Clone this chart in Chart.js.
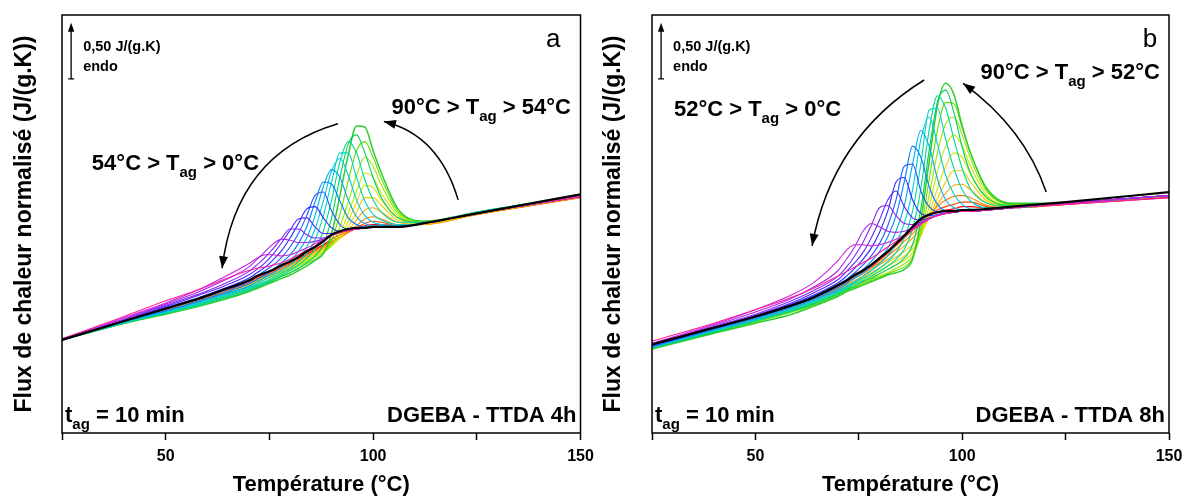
<!DOCTYPE html>
<html>
<head>
<meta charset="utf-8">
<script src="https://cdn.jsdelivr.net/npm/chart.js@4.4.1/dist/chart.umd.min.js"></script>
<style>
    html, body { margin: 0; padding: 0; background: #fff; overflow: hidden; }
    #wrap { position: relative; width: 1184px; height: 500px; }
    .panel { position: absolute; top: 0; height: 500px; }
</style>
</head>
<body>
<div id="wrap">
    <div class="panel" style="left:0;width:600px"><canvas id="chartA" width="600" height="500"></canvas></div>
    <div class="panel" style="left:592px;width:592px"><canvas id="chartB" width="592" height="500"></canvas></div>
</div>
<script>
// temperature grid shared by every curve (°C)
const temps = [25, 40, 50, 58, 64, 70, 72, 74, 76, 78, 80, 82, 84, 86, 88, 90, 92, 94, 96, 98, 100, 102, 106, 112, 125, 150];
const xTickLabels = [50, 100, 150];

// aging temperatures, hottest first
const agingTempsA = [90, 86, 82, 78, 74, 70, 66, 62, 58, 54, 50, 46, 42, 38, 34, 30, 26, 22, 18, 14, 10, 6, 2];
const agingTempsB = [90, 86, 82, 78, 74, 70, 66, 62, 57, 52, 48, 44, 40, 36, 32, 28, 24, 20, 16, 12, 8, 4, 0];

// --- DGEBA - TTDA 4h : normalised heat flow, J/(g.K) ---
const refA = [0.83, 1.00, 1.11, 1.20, 1.28, 1.36, 1.40, 1.43, 1.46, 1.50, 1.53, 1.57, 1.62, 1.66, 1.71, 1.77, 1.80, 1.82, 1.83, 1.83, 1.84, 1.84, 1.84, 1.87, 1.96, 2.13];
const a90 = [0.83, 1.00, 1.10, 1.19, 1.27, 1.35, 1.39, 1.42, 1.45, 1.49, 1.52, 1.56, 1.60, 1.64, 1.68, 1.73, 1.77, 1.80, 1.83, 1.85, 1.86, 1.86, 1.85, 1.87, 1.95, 2.11];
const a86 = [0.83, 0.99, 1.10, 1.19, 1.26, 1.34, 1.38, 1.41, 1.44, 1.48, 1.51, 1.55, 1.59, 1.63, 1.67, 1.71, 1.75, 1.79, 1.83, 1.87, 1.89, 1.88, 1.85, 1.86, 1.95, 2.10];
const a82 = [0.83, 0.99, 1.10, 1.18, 1.26, 1.33, 1.37, 1.40, 1.43, 1.47, 1.50, 1.54, 1.58, 1.62, 1.66, 1.70, 1.74, 1.79, 1.85, 1.91, 1.93, 1.91, 1.86, 1.86, 1.95, 2.10];
const a78 = [0.83, 0.99, 1.09, 1.18, 1.25, 1.33, 1.36, 1.39, 1.42, 1.46, 1.49, 1.53, 1.57, 1.61, 1.65, 1.69, 1.74, 1.81, 1.90, 1.99, 2.01, 1.97, 1.88, 1.86, 1.95, 2.11];
const a74 = [0.83, 0.99, 1.09, 1.17, 1.25, 1.32, 1.36, 1.39, 1.42, 1.45, 1.48, 1.52, 1.56, 1.60, 1.64, 1.68, 1.74, 1.84, 1.97, 2.10, 2.10, 2.03, 1.90, 1.87, 1.96, 2.11];
const a70 = [0.83, 0.99, 1.08, 1.17, 1.24, 1.31, 1.35, 1.38, 1.41, 1.44, 1.47, 1.51, 1.55, 1.59, 1.63, 1.67, 1.75, 1.89, 2.06, 2.21, 2.19, 2.08, 1.92, 1.87, 1.96, 2.11];
const a66 = [0.83, 0.98, 1.08, 1.16, 1.23, 1.30, 1.34, 1.37, 1.40, 1.43, 1.46, 1.50, 1.54, 1.58, 1.62, 1.67, 1.78, 1.96, 2.16, 2.32, 2.28, 2.14, 1.94, 1.88, 1.96, 2.11];
const a62 = [0.83, 0.98, 1.07, 1.15, 1.22, 1.29, 1.32, 1.35, 1.38, 1.42, 1.45, 1.49, 1.53, 1.57, 1.61, 1.68, 1.84, 2.06, 2.30, 2.46, 2.38, 2.21, 1.96, 1.88, 1.97, 2.12];
const a58 = [0.83, 0.98, 1.07, 1.15, 1.21, 1.28, 1.31, 1.34, 1.37, 1.40, 1.43, 1.47, 1.51, 1.55, 1.60, 1.72, 1.95, 2.25, 2.52, 2.60, 2.46, 2.27, 1.98, 1.89, 1.97, 2.12];
const a54 = [0.83, 0.98, 1.06, 1.13, 1.19, 1.26, 1.29, 1.32, 1.35, 1.38, 1.41, 1.45, 1.49, 1.54, 1.60, 1.78, 2.12, 2.48, 2.74, 2.73, 2.52, 2.32, 2.00, 1.89, 1.97, 2.12];
const a50 = [0.83, 0.98, 1.07, 1.14, 1.20, 1.27, 1.30, 1.33, 1.36, 1.40, 1.43, 1.47, 1.52, 1.58, 1.68, 1.92, 2.28, 2.58, 2.66, 2.50, 2.28, 2.10, 1.92, 1.88, 1.97, 2.12];
const a46 = [0.83, 0.98, 1.07, 1.14, 1.21, 1.28, 1.31, 1.34, 1.37, 1.41, 1.45, 1.50, 1.56, 1.64, 1.80, 2.08, 2.42, 2.60, 2.50, 2.26, 2.08, 1.97, 1.88, 1.88, 1.97, 2.12];
const a42 = [0.83, 0.99, 1.08, 1.15, 1.22, 1.29, 1.32, 1.35, 1.39, 1.43, 1.47, 1.53, 1.60, 1.72, 1.94, 2.24, 2.50, 2.50, 2.28, 2.07, 1.95, 1.90, 1.86, 1.87, 1.97, 2.12];
const a38 = [0.83, 0.99, 1.08, 1.16, 1.23, 1.30, 1.33, 1.37, 1.41, 1.45, 1.50, 1.57, 1.66, 1.82, 2.07, 2.34, 2.45, 2.30, 2.08, 1.94, 1.88, 1.86, 1.85, 1.87, 1.96, 2.12];
const a34 = [0.83, 0.99, 1.09, 1.17, 1.24, 1.31, 1.35, 1.39, 1.43, 1.48, 1.54, 1.62, 1.74, 1.94, 2.20, 2.35, 2.28, 2.08, 1.93, 1.87, 1.85, 1.85, 1.85, 1.87, 1.96, 2.11];
const a30 = [0.83, 1.00, 1.09, 1.18, 1.25, 1.33, 1.37, 1.41, 1.46, 1.52, 1.59, 1.69, 1.84, 2.06, 2.24, 2.22, 2.07, 1.92, 1.86, 1.84, 1.84, 1.84, 1.84, 1.87, 1.96, 2.11];
const a26 = [0.83, 1.00, 1.11, 1.20, 1.27, 1.35, 1.40, 1.45, 1.50, 1.57, 1.66, 1.78, 1.94, 2.12, 2.15, 1.98, 1.86, 1.82, 1.82, 1.83, 1.84, 1.84, 1.84, 1.87, 1.96, 2.11];
const a22 = [0.83, 1.00, 1.12, 1.21, 1.29, 1.38, 1.43, 1.48, 1.55, 1.63, 1.74, 1.87, 2.00, 2.02, 1.92, 1.83, 1.80, 1.81, 1.82, 1.83, 1.84, 1.84, 1.84, 1.87, 1.96, 2.11];
const a18 = [0.83, 1.01, 1.13, 1.23, 1.31, 1.41, 1.46, 1.52, 1.60, 1.70, 1.81, 1.91, 1.92, 1.84, 1.78, 1.78, 1.79, 1.81, 1.82, 1.83, 1.84, 1.84, 1.84, 1.87, 1.96, 2.11];
const a14 = [0.83, 1.01, 1.14, 1.24, 1.33, 1.44, 1.50, 1.57, 1.65, 1.74, 1.82, 1.82, 1.77, 1.74, 1.74, 1.77, 1.79, 1.81, 1.82, 1.83, 1.84, 1.84, 1.84, 1.87, 1.96, 2.11];
const a10 = [0.84, 1.02, 1.15, 1.26, 1.36, 1.48, 1.55, 1.62, 1.69, 1.73, 1.72, 1.70, 1.70, 1.71, 1.73, 1.77, 1.79, 1.81, 1.82, 1.83, 1.84, 1.84, 1.84, 1.87, 1.96, 2.11];
const a6 = [0.84, 1.03, 1.16, 1.28, 1.39, 1.51, 1.56, 1.59, 1.59, 1.58, 1.59, 1.62, 1.65, 1.69, 1.72, 1.76, 1.79, 1.81, 1.82, 1.83, 1.84, 1.84, 1.84, 1.87, 1.96, 2.11];
const a2 = [0.84, 1.04, 1.18, 1.28, 1.37, 1.45, 1.47, 1.48, 1.50, 1.52, 1.55, 1.59, 1.63, 1.67, 1.72, 1.76, 1.79, 1.81, 1.82, 1.83, 1.84, 1.84, 1.84, 1.87, 1.96, 2.11];
const seriesA = [a90, a86, a82, a78, a74, a70, a66, a62, a58, a54, a50, a46, a42, a38, a34, a30, a26, a22, a18, a14, a10, a6, a2];

// --- DGEBA - TTDA 8h ---
const refB = [0.79, 0.94, 1.04, 1.13, 1.21, 1.32, 1.36, 1.41, 1.45, 1.50, 1.56, 1.62, 1.69, 1.76, 1.84, 1.91, 1.95, 1.97, 1.98, 1.98, 1.99, 1.99, 2.00, 2.02, 2.06, 2.15];
const b90 = [0.79, 0.94, 1.03, 1.12, 1.20, 1.31, 1.35, 1.40, 1.44, 1.49, 1.55, 1.61, 1.68, 1.75, 1.83, 1.89, 1.94, 1.97, 1.99, 2.00, 2.02, 2.02, 2.01, 2.01, 2.04, 2.10];
const b86 = [0.78, 0.93, 1.03, 1.12, 1.20, 1.30, 1.34, 1.39, 1.43, 1.48, 1.54, 1.60, 1.67, 1.74, 1.81, 1.88, 1.94, 1.99, 2.02, 2.04, 2.06, 2.06, 2.02, 2.01, 2.04, 2.11];
const b82 = [0.78, 0.93, 1.02, 1.11, 1.19, 1.29, 1.33, 1.38, 1.42, 1.47, 1.52, 1.58, 1.64, 1.71, 1.78, 1.86, 1.94, 2.02, 2.08, 2.11, 2.12, 2.10, 2.03, 2.01, 2.05, 2.11];
const b78 = [0.77, 0.92, 1.02, 1.10, 1.18, 1.28, 1.32, 1.36, 1.40, 1.45, 1.50, 1.55, 1.61, 1.67, 1.74, 1.82, 1.92, 2.04, 2.14, 2.21, 2.22, 2.17, 2.05, 2.02, 2.05, 2.12];
const b74 = [0.77, 0.92, 1.01, 1.10, 1.18, 1.27, 1.31, 1.35, 1.39, 1.43, 1.47, 1.52, 1.57, 1.62, 1.68, 1.78, 1.92, 2.09, 2.24, 2.34, 2.34, 2.24, 2.07, 2.02, 2.05, 2.12];
const b70 = [0.77, 0.91, 1.01, 1.09, 1.17, 1.26, 1.30, 1.34, 1.37, 1.41, 1.45, 1.49, 1.53, 1.58, 1.64, 1.76, 1.95, 2.18, 2.38, 2.50, 2.46, 2.31, 2.09, 2.03, 2.05, 2.12];
const b66 = [0.76, 0.91, 1.00, 1.08, 1.16, 1.25, 1.29, 1.32, 1.35, 1.39, 1.42, 1.46, 1.50, 1.54, 1.61, 1.76, 2.02, 2.33, 2.56, 2.66, 2.56, 2.38, 2.12, 2.03, 2.05, 2.12];
const b62 = [0.76, 0.90, 1.00, 1.08, 1.15, 1.24, 1.28, 1.31, 1.34, 1.37, 1.40, 1.43, 1.47, 1.51, 1.58, 1.78, 2.12, 2.50, 2.76, 2.82, 2.66, 2.45, 2.15, 2.04, 2.05, 2.12];
const b57 = [0.76, 0.90, 0.99, 1.07, 1.14, 1.23, 1.27, 1.30, 1.33, 1.36, 1.39, 1.42, 1.45, 1.48, 1.56, 1.82, 2.26, 2.70, 2.95, 2.94, 2.72, 2.50, 2.17, 2.04, 2.05, 2.12];
const b52 = [0.75, 0.89, 0.98, 1.05, 1.13, 1.22, 1.26, 1.29, 1.32, 1.35, 1.38, 1.41, 1.43, 1.46, 1.55, 1.90, 2.42, 2.92, 3.12, 3.02, 2.74, 2.50, 2.18, 2.05, 2.05, 2.12];
const b48 = [0.76, 0.90, 1.00, 1.08, 1.15, 1.24, 1.28, 1.31, 1.35, 1.38, 1.42, 1.46, 1.50, 1.56, 1.68, 2.00, 2.52, 2.95, 3.06, 2.86, 2.55, 2.32, 2.10, 2.03, 2.05, 2.12];
const b44 = [0.76, 0.91, 1.00, 1.09, 1.16, 1.25, 1.29, 1.33, 1.36, 1.40, 1.44, 1.49, 1.55, 1.64, 1.82, 2.18, 2.70, 3.01, 2.90, 2.62, 2.36, 2.18, 2.05, 2.02, 2.05, 2.12];
const b40 = [0.76, 0.91, 1.01, 1.09, 1.17, 1.26, 1.30, 1.34, 1.38, 1.42, 1.47, 1.53, 1.61, 1.74, 1.98, 2.40, 2.88, 2.90, 2.62, 2.36, 2.17, 2.07, 2.01, 2.01, 2.05, 2.12];
const b36 = [0.77, 0.92, 1.01, 1.10, 1.18, 1.27, 1.31, 1.35, 1.40, 1.45, 1.51, 1.58, 1.69, 1.87, 2.17, 2.62, 2.82, 2.58, 2.30, 2.13, 2.04, 2.00, 1.99, 2.01, 2.05, 2.12];
const b32 = [0.77, 0.92, 1.02, 1.11, 1.19, 1.28, 1.33, 1.38, 1.43, 1.49, 1.56, 1.65, 1.80, 2.03, 2.40, 2.70, 2.56, 2.27, 2.08, 2.01, 1.99, 1.98, 1.99, 2.01, 2.05, 2.12];
const b28 = [0.77, 0.93, 1.03, 1.12, 1.20, 1.30, 1.35, 1.40, 1.46, 1.53, 1.62, 1.75, 1.94, 2.24, 2.56, 2.46, 2.20, 2.04, 1.98, 1.97, 1.98, 1.98, 1.99, 2.01, 2.05, 2.12];
const b24 = [0.78, 0.93, 1.03, 1.13, 1.22, 1.32, 1.37, 1.43, 1.50, 1.58, 1.69, 1.85, 2.08, 2.38, 2.40, 2.16, 2.02, 1.97, 1.96, 1.97, 1.98, 1.98, 1.99, 2.01, 2.05, 2.12];
const b20 = [0.78, 0.94, 1.04, 1.14, 1.23, 1.34, 1.40, 1.47, 1.55, 1.65, 1.79, 1.98, 2.24, 2.28, 2.08, 1.96, 1.94, 1.95, 1.96, 1.97, 1.98, 1.98, 1.99, 2.01, 2.05, 2.12];
const b16 = [0.78, 0.94, 1.05, 1.15, 1.25, 1.37, 1.44, 1.52, 1.61, 1.74, 1.90, 2.08, 2.16, 2.02, 1.92, 1.90, 1.92, 1.94, 1.96, 1.97, 1.98, 1.98, 1.99, 2.01, 2.05, 2.12];
const b12 = [0.79, 0.95, 1.06, 1.17, 1.27, 1.40, 1.48, 1.58, 1.70, 1.85, 2.01, 2.03, 1.94, 1.87, 1.86, 1.88, 1.91, 1.94, 1.96, 1.97, 1.98, 1.98, 1.99, 2.01, 2.05, 2.12];
const b8 = [0.79, 0.96, 1.08, 1.19, 1.30, 1.45, 1.55, 1.66, 1.80, 1.87, 1.84, 1.80, 1.79, 1.80, 1.83, 1.87, 1.91, 1.94, 1.96, 1.97, 1.98, 1.98, 1.99, 2.01, 2.05, 2.12];
const b4 = [0.80, 0.97, 1.10, 1.22, 1.34, 1.54, 1.63, 1.68, 1.68, 1.67, 1.68, 1.70, 1.73, 1.77, 1.82, 1.87, 1.91, 1.94, 1.96, 1.97, 1.98, 1.98, 1.99, 2.01, 2.05, 2.12];
const b0 = [0.82, 0.98, 1.10, 1.20, 1.29, 1.40, 1.44, 1.48, 1.52, 1.56, 1.61, 1.66, 1.71, 1.76, 1.81, 1.86, 1.91, 1.94, 1.96, 1.97, 1.98, 1.98, 1.99, 2.01, 2.04, 2.10];
const seriesB = [b90, b86, b82, b78, b74, b70, b66, b62, b57, b52, b48, b44, b40, b36, b32, b28, b24, b20, b16, b12, b8, b4, b0];

// rainbow, hottest aging temperature first
const curveColors = ['#ff0000', '#ff4400', '#ff8000', '#ffaa00', '#f2cc00', '#e0e000', '#c4e800', '#9ae400', '#66dd00', '#2ecc2e',
    '#00d060', '#00d890', '#00d4c0', '#00c8e0', '#00a8f0', '#0080ff', '#2058ff', '#2a2aff', '#5a28ff', '#8628f0', '#a828e8', '#cc22dd', '#ff1e9a'];

const FONT = '"Liberation Sans", Arial, sans-serif';

/**
 * Text with a subscript: odd entries of parts are drawn as subscript
 */
function drawParts(ctx, parts, x, y, align, size) {
    const mainFont = `bold ${size}px ${FONT}`;
    const subFont = `bold ${Math.round(size * 0.68)}px ${FONT}`;
    const fonts = parts.map((p, i) => (i % 2 === 1 ? subFont : mainFont));
    const widths = parts.map((p, i) => { ctx.font = fonts[i]; return ctx.measureText(p).width; });
    const total = widths.reduce((s, w) => s + w, 0);
    let cx = align === 'right' ? x - total : x;
    ctx.textAlign = 'left';
    ctx.textBaseline = 'middle';
    parts.forEach((p, i) => {
        ctx.font = fonts[i];
        ctx.fillText(p, cx, i % 2 === 1 ? y + size * 0.4 : y);
        cx += widths[i];
    });
}

function drawArrowHead(ctx, tip, from, len, half) {
    const ang = Math.atan2(tip.y - from.y, tip.x - from.x);
    const c = Math.cos(ang), s = Math.sin(ang);
    const bx = tip.x - len * c, by = tip.y - len * s;
    ctx.beginPath();
    ctx.moveTo(tip.x, tip.y);
    ctx.lineTo(bx - half * s, by + half * c);
    ctx.lineTo(bx + half * s, by - half * c);
    ctx.closePath();
    ctx.fill();
}

/**
 * Frame, scale bar, labels and curved arrows of one panel
 */
function panelMarks(spec) {
    return {
        id: 'panelMarks',
        afterDraw(chart) {
            const { ctx, chartArea: area, scales: { x, y } } = chart;
            const pt = (p) => ({ x: x.getPixelForValue(p[0]), y: y.getPixelForValue(p[1]) });
            ctx.save();
            ctx.strokeStyle = '#000';
            ctx.fillStyle = '#000';
            ctx.lineWidth = 1.5;
            ctx.strokeRect(area.left, area.top, area.right - area.left, area.bottom - area.top);

            // 0.50 J/(g.K) scale bar
            const b0 = pt(spec.scaleBar);
            const b1 = pt([spec.scaleBar[0], spec.scaleBar[1] + 0.5]);
            ctx.lineWidth = 1.3;
            ctx.beginPath();
            ctx.moveTo(b0.x - 3, b0.y);
            ctx.lineTo(b0.x + 3, b0.y);
            ctx.moveTo(b0.x, b0.y);
            ctx.lineTo(b1.x, b1.y + 6);
            ctx.stroke();
            drawArrowHead(ctx, b1, b0, 9, 3.2);
            const st = pt(spec.scaleText);
            ctx.font = `bold 14.5px ${FONT}`;
            ctx.textAlign = 'left';
            ctx.textBaseline = 'middle';
            ctx.fillText('0,50 J/(g.K)', st.x, st.y);
            ctx.fillText('endo', st.x, st.y + 20);

            // panel letter
            const lp = pt(spec.letterAt);
            ctx.font = `26px ${FONT}`;
            ctx.textAlign = 'center';
            ctx.fillText(spec.letter, lp.x, lp.y);

            // aging range labels
            spec.labels.forEach(l => {
                const p = pt(l.at);
                drawParts(ctx, l.parts, p.x, p.y, l.align, 22);
            });

            // curved arrows
            ctx.lineWidth = 1.5;
            spec.arrows.forEach(a => {
                const s = pt(a[0]), c = pt(a[1]), e = pt(a[2]);
                ctx.beginPath();
                ctx.moveTo(s.x, s.y);
                ctx.quadraticCurveTo(c.x, c.y, e.x, e.y);
                ctx.stroke();
                drawArrowHead(ctx, e, c, 12, 4.5);
            });

            // footer texts inside the frame
            const fy = area.bottom - 17;
            drawParts(ctx, ['t', 'ag', ' = 10 min'], area.left + 3, fy, 'left', 22);
            drawParts(ctx, [spec.sample], area.right - 4, fy, 'right', 22);
            ctx.restore();
        }
    };
}

function buildChart(canvasId, series, ref, spec, yWidth, rightPad, yTitlePad) {
    const datasets = [{
        label: 'reference',
        data: temps.map((t, i) => ({ x: t, y: ref[i] })),
        borderColor: '#000',
        borderWidth: 2.2,
        order: 0
    }];
    // coldest first so the magenta curves sit above the warm ones
    for (let k = series.length - 1; k >= 0; k--) {
        datasets.push({
            label: 'Tag ' + spec.agingTemps[k],
            data: temps.map((t, i) => ({ x: t, y: series[k][i] })),
            borderColor: curveColors[k],
            borderWidth: k === 9 ? 1.5 : 1.1,
            order: 1
        });
    }
    return new Chart(document.getElementById(canvasId), {
        type: 'line',
        data: { datasets },
        options: {
            responsive: false,
            animation: false,
            events: [],
            layout: { autoPadding: false, padding: { left: 0, right: rightPad, top: 15, bottom: 0 } },
            elements: {
                point: { radius: 0 },
                line: { cubicInterpolationMode: 'monotone', fill: false }
            },
            plugins: { legend: { display: false }, tooltip: { enabled: false } },
            scales: {
                x: {
                    type: 'linear',
                    min: 25,
                    max: 150,
                    afterFit: (s) => { s.height = 67; s.paddingLeft = 0; s.paddingRight = 0; },
                    border: { display: false },
                    grid: { drawOnChartArea: false, drawTicks: true, tickLength: 7, tickColor: '#000', tickWidth: 1.5 },
                    ticks: {
                        stepSize: 25,
                        autoSkip: false,
                        maxRotation: 0,
                        padding: 7,
                        color: '#000',
                        font: { family: FONT, size: 16, weight: 'bold' },
                        callback: (v) => (xTickLabels.includes(v) ? String(v) : '')
                    },
                    title: {
                        display: true,
                        text: 'Température (°C)',
                        color: '#000',
                        font: { family: FONT, size: 22, weight: 'bold' },
                        padding: { top: 0, bottom: 2 }
                    }
                },
                y: {
                    min: 0,
                    max: 3.73,
                    afterFit: (s) => { s.width = yWidth; s.paddingTop = 0; s.paddingBottom = 0; },
                    border: { display: false },
                    grid: { display: false },
                    ticks: { display: false },
                    title: {
                        display: true,
                        text: 'Flux de chaleur normalisé (J/(g.K))',
                        color: '#000',
                        font: { family: FONT, size: 23, weight: 'bold' },
                        padding: { top: yTitlePad, bottom: 0 }
                    }
                }
            }
        },
        plugins: [panelMarks(spec)]
    });
}

buildChart('chartA', seriesA, refA, {
    agingTemps: agingTempsA,
    letter: 'a',
    letterAt: [143.4, 3.51],
    scaleBar: [27.2, 3.16],
    scaleText: [30.1, 3.44],
    labels: [
        { parts: ['90°C > T', 'ag', ' > 54°C'], at: [147.7, 2.90], align: 'right' },
        { parts: ['54°C > T', 'ag', ' > 0°C'], at: [32.2, 2.40], align: 'left' }
    ],
    arrows: [
        [[91.5, 2.76], [66.9, 2.49], [63.6, 1.47]],
        [[120.5, 2.08], [115.9, 2.66], [102.6, 2.78]]
    ],
    sample: 'DGEBA - TTDA 4h'
}, 62, 19.5, 11);

buildChart('chartB', seriesB, refB, {
    agingTemps: agingTempsB,
    letter: 'b',
    letterAt: [145.4, 3.51],
    scaleBar: [27.2, 3.16],
    scaleText: [30.1, 3.44],
    labels: [
        { parts: ['90°C > T', 'ag', ' > 52°C'], at: [147.8, 3.21], align: 'right' },
        { parts: ['52°C > T', 'ag', ' > 0°C'], at: [30.3, 2.88], align: 'left' }
    ],
    arrows: [
        [[90.8, 3.15], [68.5, 2.64], [63.7, 1.67]],
        [[120.3, 2.15], [115.1, 2.72], [100.2, 3.12]]
    ],
    sample: 'DGEBA - TTDA 8h'
}, 60, 15, 8);
</script>
</body>
</html>
